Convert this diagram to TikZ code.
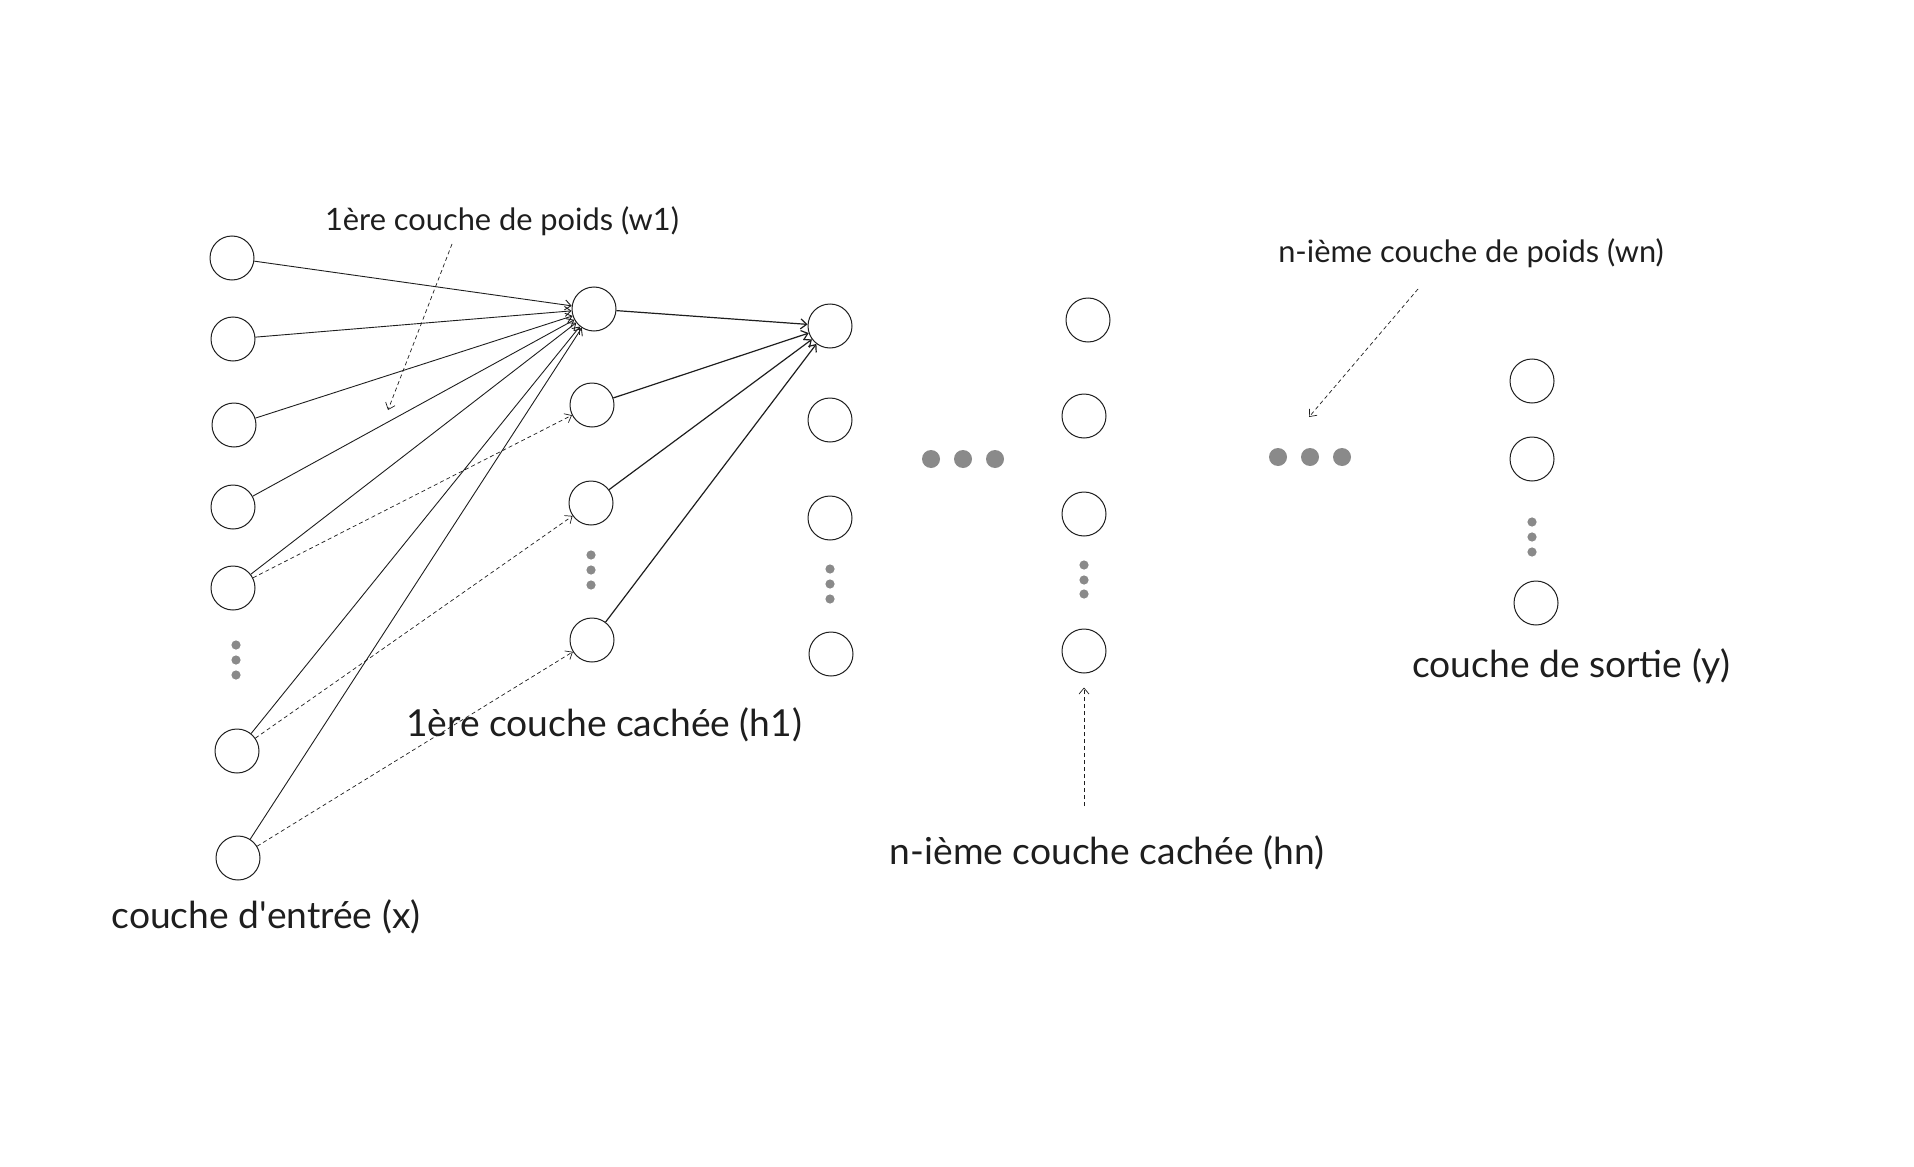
\documentclass[tikz,border=0pt]{standalone}
\usepackage{fontspec}
\setmainfont{Lato}
\usetikzlibrary{arrows.meta}
\definecolor{trait}{RGB}{30,30,30}
\definecolor{gris}{RGB}{138,138,138}
\begin{document}
\begin{tikzpicture}[
        x=0.5pt, y=-0.5pt, % 1 px de l'image = 0.5pt
        cell/.style={circle, draw=trait, line width=0.5pt, minimum size=22pt, inner sep=0pt}, % neurones
        pt/.style={circle, fill=gris, inner sep=0pt, minimum size=4.6pt}, % petits points
        gros/.style={circle, fill=gris, inner sep=0pt, minimum size=9pt}, % gros points
        lien/.style={draw=trait, line width=0.45pt, -{Straight Barb[length=3pt,width=5pt]}},
        note/.style={draw=trait, line width=0.35pt, dash pattern=on 2pt off 1.5pt, -{Straight Barb[length=3pt,width=5pt]}},
        titre/.style={text=trait, font=\fontsize{18.6}{22}\selectfont},
        petit/.style={text=trait, font=\fontsize{15.4}{18}\selectfont},
    ]
    \useasboundingbox (0,0) rectangle (1914,1166);

    % couche d'entree
    \node[cell] (i1) at (232,258) {};
    \node[cell] (i2) at (233,339) {};
    \node[cell] (i3) at (234,425) {};
    \node[cell] (i4) at (233,507) {};
    \node[cell] (i5) at (233,588) {};
    \node[cell] (i6) at (237,751) {};
    \node[cell] (i7) at (238,858) {};
    \foreach \n/\y in {1/645,2/660,3/675} \node[pt] (pe\n) at (236,\y) {};

    % 1ere couche cachee
    \node[cell] (h1) at (594,309) {};
    \node[cell] (h2) at (592,405) {};
    \node[cell] (h3) at (591,503) {};
    \node[cell] (h4) at (592,640) {};
    \foreach \n/\y in {1/555,2/570,3/585} \node[pt] (ph\n) at (591,\y) {};

    % couche suivante
    \node[cell] (g1) at (830,326) {};
    \node[cell] (g2) at (830,420) {};
    \node[cell] (g3) at (830,518) {};
    \node[cell] (g4) at (831,654) {};
    \foreach \n/\y in {1/569,2/584,3/599} \node[pt] (pg\n) at (830,\y) {};

    \foreach \n/\x in {1/931,2/963,3/995} \node[gros] (ga\n) at (\x,459) {};

    % n-ieme couche cachee
    \node[cell] (n1) at (1088,320) {};
    \node[cell] (n2) at (1084,416) {};
    \node[cell] (n3) at (1084,514) {};
    \node[cell] (n4) at (1084,651) {};
    \foreach \n/\y in {1/565,2/580,3/594} \node[pt] (pn\n) at (1084,\y) {};

    \foreach \n/\x in {1/1278,2/1310,3/1342} \node[gros] (gb\n) at (\x,457) {};

    % couche de sortie
    \node[cell] (o1) at (1532,381) {};
    \node[cell] (o2) at (1532,459) {};
    \node[cell] (o3) at (1536,603) {};
    \foreach \n/\y in {1/522,2/537,3/552} \node[pt] (po\n) at (1532,\y) {};

    % poids
    \foreach \s in {i1,i2,i3,i4,i5,i6,i7} \draw[lien] (\s) -- (h1);
    \draw[note] (i5) -- (h2);
    \draw[note] (i6) -- (h3);
    \draw[note] (i7) -- (h4);
    \foreach \s in {h1,h2,h3,h4} \draw[lien, line width=0.6pt] (\s) -- (g1);

    % textes
    \node[petit] (tw1) at (502,221) {1ère couche de poids (w1)};
    \node[titre] (th1) at (604,725) {1ère couche cachée (h1)};
    \node[titre] (tx) at (266,917) {couche d\textquotesingle entrée (x)};
    \node[titre] (thn) at (1107,853) {n-ième couche cachée (hn)};
    \node[petit] (twn) at (1471,253) {n-ième couche de poids (wn)};
    \node[titre] (ty) at (1571,666) {couche de sortie (y)};

    % renvois
    \coordinate (w1a) at (452,244);
    \coordinate (w1b) at (388,410);
    \coordinate (wna) at (1418,289);
    \coordinate (wnb) at (1309,417);
    \coordinate (hna) at (1084,806);
    \draw[note] (w1a) -- (w1b);
    \draw[note] (wna) -- (wnb);
    \draw[note] (hna) -- ([yshift=-7pt]n4.south);
\end{tikzpicture}
\end{document}
